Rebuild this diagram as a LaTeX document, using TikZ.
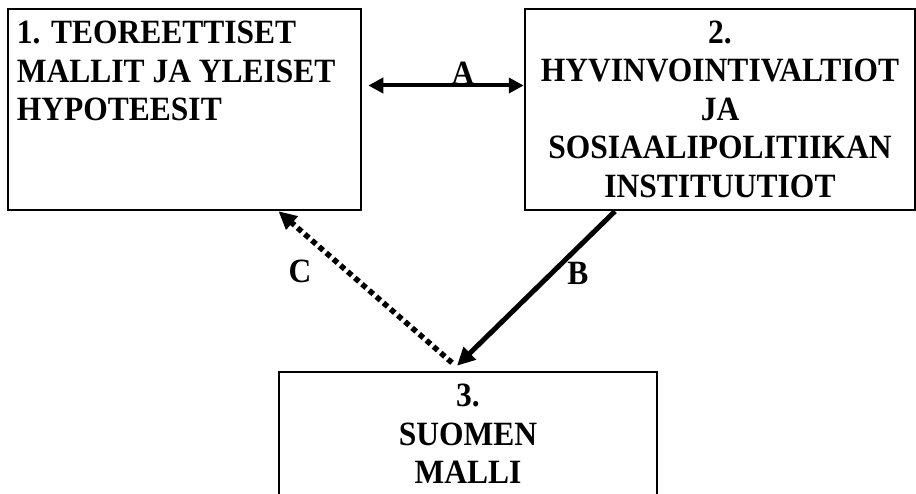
\documentclass[tikz,border=0pt]{standalone}
\usepackage{fontspec}
\usepackage{graphicx}
\setmainfont{Liberation Serif}
\usetikzlibrary{arrows.meta,positioning}
% the letters of the original are a little taller than wide
\newcommand{\tallrow}[1]{\scalebox{1}[1.08]{#1}}

\begin{document}
\begin{tikzpicture}
  [x=1pt,y=-1pt,
   box/.style={draw,rectangle,line width=2.5pt,inner sep=0pt},
   lbl/.style={font=\bfseries\fontsize{31.5}{38.5}\selectfont,inner sep=0pt},
   arr/.style={line width=5pt,-{Triangle[length=18pt,width=17pt]}}]
  \clip (0,0) rectangle (916,494);
  % the three boxes
  \node[box,minimum width=353pt,minimum height=201pt] (b1) at (184.5,109.5) {};
  \node[box,minimum width=390pt,minimum height=201pt] (b2) at (720,109.5) {};
  \node[box,minimum width=378pt,minimum height=188pt] (b3) at (468,466) {};
  % texts
  \node[lbl,anchor=north west,align=left] (t1) at ([xshift=10pt,yshift=-13.5pt]b1.north west)
    {\tallrow{1. TEOREETTISET}\\\tallrow{MALLIT JA YLEISET}\\\tallrow{HYPOTEESIT}};
  \node[lbl,anchor=north,align=center] (t2) at ([yshift=-13pt]b2.north)
    {\tallrow{2.}\\\tallrow{HYVINVOINTIVALTIOT}\\\tallrow{JA}\\\tallrow{SOSIAALIPOLITIIKAN}\\\tallrow{INSTITUUTIOT}};
  \node[lbl,anchor=north,align=center] (t3) at ([yshift=-13.5pt]b3.north)
    {\tallrow{3.}\\\tallrow{SUOMEN}\\\tallrow{MALLI}};
  % connectors
  \draw[line width=4pt,{Triangle[length=15pt,width=15pt]}-{Triangle[length=15pt,width=15pt]}]
    ([xshift=6pt,yshift=24pt]b1.east) -- ([yshift=24pt]b2.west)
    node[lbl,pos=0.61,anchor=base,yshift=1pt] {\tallrow{A}};
  \draw[arr] ([xshift=-105pt]b2.south) -- ([xshift=-11pt,yshift=5pt]b3.north)
    node[lbl,pos=0.4,xshift=26pt] {\tallrow{B}};
  \draw[arr,line width=5.5pt,dash pattern=on 5.5pt off 4pt] ([xshift=-16pt,yshift=8pt]b3.north) -- ([xshift=94pt]b1.south)
    node[lbl,pos=0.6,xshift=-48pt] {\tallrow{C}};
\end{tikzpicture}
\end{document}
